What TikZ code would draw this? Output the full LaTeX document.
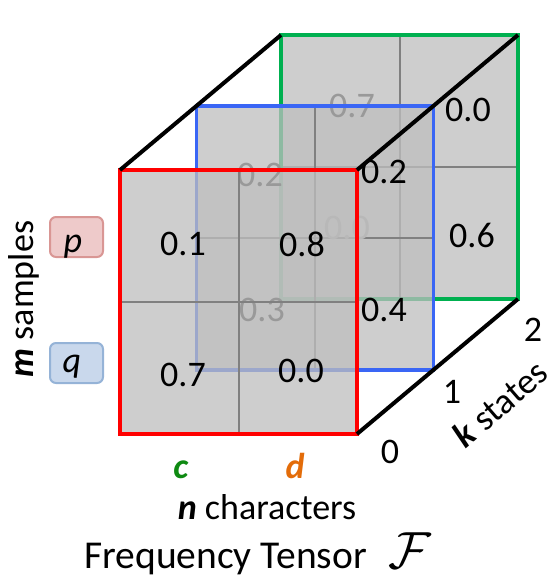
\documentclass[tikz,border=0pt]{standalone}
\usepackage{graphicx}
\usepackage{fontspec}
\setmainfont{Carlito}
\definecolor{sheet}{HTML}{BEBEBE}
\definecolor{gridgray}{HTML}{808080}
\definecolor{kred}{HTML}{FF0000}
\definecolor{kblue}{HTML}{3A66F5}
\definecolor{kgreen}{HTML}{00B050}
\definecolor{cgreen}{HTML}{0E8A12}
\definecolor{dorange}{HTML}{E36C09}
\definecolor{pfill}{HTML}{EECACA}
\definecolor{pdraw}{HTML}{D99694}
\definecolor{qfill}{HTML}{C9D8EC}
\definecolor{qdraw}{HTML}{95B3D7}
\definecolor{fadeone}{HTML}{999999}
\definecolor{fadetwo}{HTML}{B8B8B8}
\begin{document}
\begin{tikzpicture}[x=1pt,y=-1pt,
  every node/.style={inner sep=0pt, outer sep=0pt},
  txt/.style={font=\fontsize{36}{40}\selectfont},
  bigtxt/.style={font=\fontsize{39.5}{44}\selectfont},
  layerfill/.style={fill=sheet, fill opacity=0.75, minimum width=237pt, minimum height=264pt},
  gridline/.style={draw=gridgray, line width=2pt, shorten <=2pt, shorten >=2pt},
  edge/.style={draw=black, line width=4pt},
  tag/.style={rounded corners=6pt, line width=2pt, minimum width=53pt, minimum height=40pt}
]
\useasboundingbox (0,0) rectangle (556,584);

% ---- state 2 (back sheet)
\node[layerfill] (G) at (399.5,167) {};
\draw[gridline] (G.north) -- (G.south);
\draw[gridline] (G.west) -- (G.east);
\draw[draw=kgreen, line width=3.5pt] (G.north west) rectangle (G.south east);

% ---- state 1 (middle sheet)
\node[layerfill] (B) at (315,238) {};
\node[txt, text=fadeone] (g1) at (352,106) {0.7};
\draw[gridline] (B.north) -- (B.south);
\draw[gridline] (B.west) -- (B.east);
\draw[draw=kblue, line width=3.5pt] (B.north west) rectangle (B.south east);

% ---- state 0 (front sheet)
\node[layerfill] (R) at (238.5,302) {};
\node[txt, text=fadeone] (b1) at (260,175) {0.2};
\node[txt, text=fadeone] (b3) at (262,310) {0.3};
\node[txt, text=fadetwo] (g3) at (347,228) {0.0};
\draw[gridline] (R.north) -- (R.south);
\draw[gridline] (R.west) -- (R.east);
\draw[draw=kred, line width=4pt] (R.north west) rectangle (R.south east);

% visible frequencies
\node[txt] (r1) at (183,244) {0.1};
\node[txt] (r2) at (302,244) {0.8};
\node[txt] (r3) at (183,375) {0.7};
\node[txt] (r4) at (301,371) {0.0};
\node[txt] (b2) at (384,172) {0.2};
\node[txt] (b4) at (384,310) {0.4};
\node[txt] (g2) at (468,110) {0.0};
\node[txt] (g4) at (472,235) {0.6};

% depth edges of the tensor
\draw[edge] (R.north west) -- (G.north west);
\draw[edge] (R.north east) -- (G.north east);
\draw[edge] (R.south east) -- (G.south east);

% state indices
\node[txt] (k0) at (390,452) {0};
\node[txt] (k1) at (452,392) {1};
\node[txt] (k2) at (533,330) {2};
\node[txt, rotate=41, anchor=base] (klab) at (508,413) {\textbf{\textit{k}} states};

% samples
\node[tag, fill=pfill, draw=pdraw] (pbox) at (76.5,237) {};
\node[txt, anchor=base] (plab) at (73,252) {\textit{p}};
\node[tag, fill=qfill, draw=qdraw] (qbox) at (76.5,363) {};
\node[txt, anchor=base] (qlab) at (72,372) {\textit{q}};
\node[txt, rotate=90, anchor=base] (mlab) at (33,299) {\textbf{\textit{m}} samples};

% characters
\node[txt, anchor=base, text=cgreen] (clab) at (181,478) {\textbf{\textit{c}}};
\node[txt, anchor=base, text=dorange] (dlab) at (295,478) {\textbf{\textit{d}}};
\node[txt, anchor=base] (nlab) at (267,519) {\textbf{\textit{n}} characters};

% caption
\node[bigtxt, anchor=base] (title) at (258,568) {Frequency Tensor\hspace{22pt}{\fontsize{24.88}{30}\selectfont\scalebox{2.1}{$\mathcal{F}$}}};
\end{tikzpicture}
\end{document}
